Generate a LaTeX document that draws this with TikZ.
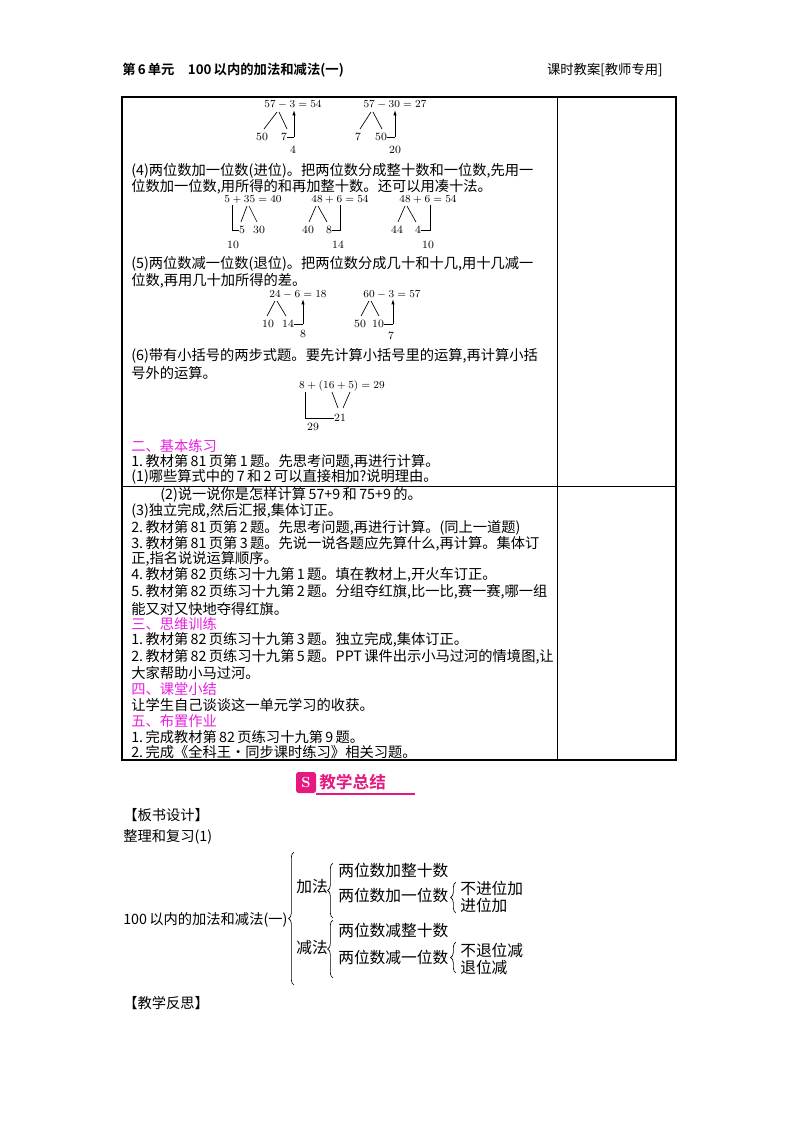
\documentclass[tikz,border=0pt]{standalone}
\usepackage{fontspec}
\newfontfamily\cjk{Noto Sans CJK SC}
\newfontfamily\cjkb{Noto Sans CJK SC Bold}
\usetikzlibrary{arrows.meta,decorations.pathreplacing}
\definecolor{mag}{HTML}{E81EE0}
\definecolor{logo}{HTML}{E5197E}
\begin{document}
\begin{tikzpicture}[x=0.75pt,y=-0.75pt,
  txt/.style={anchor=west,inner sep=0pt,font=\cjk\fontsize{10.7}{12}\selectfont},
  sec/.style={txt,text=mag},
  big/.style={anchor=west,inner sep=0pt,font=\cjk\fontsize{11.8}{13}\selectfont},
  eq/.style={inner sep=0pt,font=\fontsize{8.3}{9}\selectfont},
  ln/.style={line width=0.5pt},
  arr/.style={line width=0.6pt,-{Latex[length=4pt,width=2.5pt]}},
  br/.style={decorate,decoration={brace,amplitude=4pt,mirror},line width=0.5pt}]
\useasboundingbox (0,0) rectangle (800,1132);
% header
\node[anchor=west,inner sep=0pt,font=\cjkb\fontsize{10}{12}\selectfont] (h1) at (122,70) {第\,6\,单元\quad 100\,以内的加法和减法(一)};
\node[anchor=east,inner sep=0pt,font=\cjk\fontsize{10}{12}\selectfont] (h2) at (663,70) {课时教案[教师专用]};
% table
\draw[line width=0.9pt] (122,97) rectangle (676,760);
\draw[line width=0.7pt] (557,97) -- (557,760);
\draw[line width=0.7pt] (122,486) -- (676,486);
% diagram row 1
\node[eq] (e1) at (293,105) {$57-3=54$};
\node[eq] (n50) at (262,137) {50};
\node[eq] (n7) at (284,137) {7};
\node[eq] (n4) at (293,150) {4};
\draw[ln] (277,112) -- (264,129) (279,112) -- (287,129);
\draw[ln] (n7.east) -- (294,137);
\draw[arr] (294,137) -- (294,110);
\node[eq] (e2) at (395,105) {$57-30=27$};
\node[eq] (m7) at (358,137) {7};
\node[eq] (m50) at (381,137) {50};
\node[eq] (m20) at (395,150) {20};
\draw[ln] (371,112) -- (360,129) (373,112) -- (382,129);
\draw[ln] (m50.east) -- (395,137);
\draw[arr] (395,137) -- (395,110);
\node[txt] (t4a) at (131,171) {(4)两位数加一位数(进位)。把两位数分成整十数和一位数,先用一};
\node[txt] (t4b) at (131,187) {位数加一位数,用所得的和再加整十数。还可以用凑十法。};
% row 4 diagrams
\node[eq] (f1) at (253,200) {$5+35=40$};
\node[eq] (f5) at (242,230) {5};
\node[eq] (f30) at (259,230) {30};
\node[eq] (f10) at (233,245) {10};
\draw[ln] (232,205) -- (232,230) -- (f5.west);
\draw[ln] (247,206) -- (241,222) (249,206) -- (257,222);
\node[eq] (g1) at (340,200) {$48+6=54$};
\node[eq] (g40) at (308,230) {40};
\node[eq] (g8) at (329,230) {8};
\node[eq] (g14) at (338,245) {14};
\draw[ln] (316,206) -- (309,222) (318,206) -- (327,222);
\draw[ln] (g8.east) -- (340,230) -- (340,205);
\node[eq] (k1) at (428,200) {$48+6=54$};
\node[eq] (k44) at (397,230) {44};
\node[eq] (k4) at (418,230) {4};
\node[eq] (k10) at (428,245) {10};
\draw[ln] (405,206) -- (398,222) (407,206) -- (416,222);
\draw[ln] (k4.east) -- (430,230) -- (430,205);
\node[txt] (t5a) at (131,264) {(5)两位数减一位数(退位)。把两位数分成几十和十几,用十几减一};
\node[txt] (t5b) at (131,281) {位数,再用几十加所得的差。};
\node[eq] (p1) at (298,295) {$24-6=18$};
\node[eq] (p10) at (268,324) {10};
\node[eq] (p14) at (288,324) {14};
\node[eq] (p8) at (303,334) {8};
\draw[ln] (275,301) -- (267,316) (277,301) -- (286,316);
\draw[ln] (p14.east) -- (303,324);
\draw[arr] (303,324) -- (303,299);
\node[eq] (q1) at (392,295) {$60-3=57$};
\node[eq] (q50) at (360,324) {50};
\node[eq] (q10) at (378,324) {10};
\node[eq] (q7) at (391,336) {7};
\draw[ln] (369,301) -- (361,316) (371,301) -- (379,316);
\draw[ln] (q10.east) -- (393,324);
\draw[arr] (393,324) -- (393,299);
\node[txt] (t6a) at (131,356) {(6)带有小括号的两步式题。要先计算小括号里的运算,再计算小括};
\node[txt] (t6b) at (131,373) {号外的运算。};
\node[eq] (r1) at (342,386) {$8+(16+5)=29$};
\node[eq] (r21) at (340,418) {21};
\node[eq] (r29) at (313,427) {29};
\draw[ln] (305,392) -- (305,418) -- (r21.west);
\draw[ln] (332,392) -- (338,408) (350,392) -- (343,408);
\node[sec] (s2) at (131,446) {二、基本练习};
\node[txt] (l1) at (131,462) {1.\,教材第\,81\,页第\,1\,题。先思考问题,再进行计算。};
\node[txt] (l2) at (131,477) {(1)哪些算式中的\,7\,和\,2\,可以直接相加?说明理由。};
\node[txt] (l3) at (160,495) {(2)说一说你是怎样计算\,57+9\,和\,75+9\,的。};
\node[txt] (l4) at (131,511) {(3)独立完成,然后汇报,集体订正。};
\node[txt] (l5) at (131,528) {2.\,教材第\,81\,页第\,2\,题。先思考问题,再进行计算。(同上一道题)};
\node[txt] (l6) at (131,544) {3.\,教材第\,81\,页第\,3\,题。先说一说各题应先算什么,再计算。集体订};
\node[txt] (l7) at (131,559) {正,指名说说运算顺序。};
\node[txt] (l8) at (131,575) {4.\,教材第\,82\,页练习十九第\,1\,题。填在教材上,开火车订正。};
\node[txt] (l9) at (131,592) {5.\,教材第\,82\,页练习十九第\,2\,题。分组夺红旗,比一比,赛一赛,哪一组};
\node[txt] (l10) at (131,609) {能又对又快地夺得红旗。};
\node[sec] (s3) at (131,624) {三、思维训练};
\node[txt] (l11) at (131,640) {1.\,教材第\,82\,页练习十九第\,3\,题。独立完成,集体订正。};
\node[txt] (l12) at (131,657) {2.\,教材第\,82\,页练习十九第\,5\,题。PPT\,课件出示小马过河的情境图,让};
\node[txt] (l13) at (131,673) {大家帮助小马过河。};
\node[sec] (s4) at (131,689) {四、课堂小结};
\node[txt] (l14) at (131,705) {让学生自己谈谈这一单元学习的收获。};
\node[sec] (s5) at (131,721) {五、布置作业};
\node[txt] (l15) at (131,737) {1.\,完成教材第\,82\,页练习十九第\,9\,题。};
\node[txt] (l16) at (131,752) {2.\,完成《全科王·同步课时练习》相关习题。};
% logo
\fill[logo,rounded corners=2pt] (296,772) rectangle (316,793);
\node[inner sep=0pt,text=white,font=\bfseries\fontsize{11}{11}\selectfont] (icon) at (306,782.5) {S};
\draw[logo,line width=0.8pt] (316,794) -- (415,794);
\node[anchor=west,inner sep=0pt,text=logo,font=\cjkb\fontsize{12.5}{14}\selectfont] (logot) at (319,782) {教学总结};
% bottom
\node[txt] (bs) at (123,815) {【板书设计】};
\node[txt] (zl) at (123,837) {整理和复习(1)};
\node[txt] (root) at (123,920) {100\,以内的加法和减法(一)};
\draw[br] (294,852) -- (294,985);
\node[big] (jf) at (296,887) {加法};
\node[big] (hf) at (296,948) {减法};
\draw[br] (333,863) -- (333,918);
\draw[br] (333,920) -- (333,978);
\node[big] (a1) at (338,870) {两位数加整十数};
\node[big] (a2) at (338,895) {两位数加一位数};
\node[big] (b1) at (338,930) {两位数减整十数};
\node[big] (b2) at (338,957) {两位数减一位数};
\draw[br] (456,882) -- (456,913);
\draw[br] (456,942) -- (456,973);
\node[big] (a21) at (460,888) {不进位加};
\node[big] (a22) at (460,905) {进位加};
\node[big] (b21) at (460,950) {不退位减};
\node[big] (b22) at (460,967) {退位减};
\node[txt] (fs) at (123,1003) {【教学反思】};
\end{tikzpicture}
\end{document}
